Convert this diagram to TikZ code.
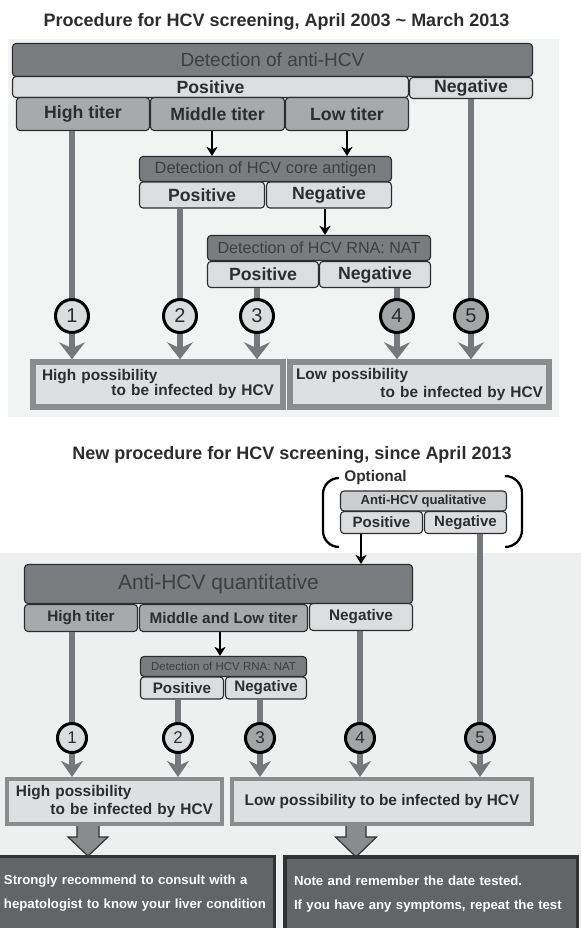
\documentclass[tikz,border=0pt]{standalone}
\usepackage{fontspec}
\setmainfont{Liberation Sans}
\usetikzlibrary{arrows.meta}
\usetikzlibrary{positioning,calc}

\definecolor{panelgray}{RGB}{242,243,243}
\definecolor{panelgraylow}{RGB}{238,240,239}
\definecolor{darkfill}{RGB}{123,124,127}
\definecolor{darktext}{RGB}{62,63,65}
\definecolor{midfill}{RGB}{168,169,171}
\definecolor{lightfill}{RGB}{220,221,223}
\definecolor{qualfill}{RGB}{205,206,208}
\definecolor{shadefill}{RGB}{164,165,167}
\definecolor{linkgray}{RGB}{119,120,123}
\definecolor{framegray}{RGB}{139,140,142}
\definecolor{resfill}{RGB}{222,223,224}
\definecolor{notefill}{RGB}{99,100,104}
\definecolor{noteframe}{RGB}{50,50,52}
\definecolor{arrowfill}{RGB}{138,139,141}
\definecolor{inkgray}{RGB}{45,45,47}

\tikzstyle{headline}=[font=\bfseries\fontsize{18}{20}\selectfont,text=inkgray,inner sep=0pt]
\tikzstyle{box}=[rectangle,rounded corners=3.5pt,draw=inkgray,line width=1.1pt,inner sep=0pt,text=inkgray]
\tikzstyle{testbox}=[box,fill=darkfill,text=darktext]
\tikzstyle{answerbox}=[box,fill=lightfill,font=\bfseries\fontsize{17.7}{20}\selectfont]
\tikzstyle{titerbox}=[box,fill=midfill,font=\bfseries\fontsize{17.7}{20}\selectfont]
\tikzstyle{numcircle}=[circle,draw=black,line width=3pt,inner sep=0pt,text=inkgray]
\tikzstyle{endbox}=[rectangle,draw=framegray,fill=resfill,inner sep=0pt,text=inkgray,align=left]
\tikzstyle{notebox}=[rectangle,draw=noteframe,fill=notefill,line width=3.5pt,inner sep=0pt,text=white,font=\bfseries\fontsize{13.2}{24}\selectfont,align=left]
\tikzstyle{link}=[draw=linkgray,line width=6pt]
\tikzstyle{linkarrow}=[link,-{Stealth[length=17pt,width=26pt,inset=6pt]}]
\tikzstyle{smalllinkarrow}=[link,-{Stealth[length=16pt,width=22pt,inset=5pt]}]
\tikzstyle{flow}=[draw=black,line width=2.5pt,-{Stealth[length=9pt,width=11pt,inset=2.5pt]}]
\tikzstyle{blockarrow}=[draw=noteframe,fill=arrowfill,line width=1.2pt,line join=miter]
\tikzstyle{bracket}=[draw=black,line width=2.3pt]

\begin{document}
\begin{tikzpicture}[x=1pt,y=-1pt]
\useasboundingbox (0,0) rectangle (581,928);

   \def\ctop{316};
   \def\cbot{738};

% Panels
   \fill[panelgray] (8,39) rectangle (559,417);
   \fill[panelgraylow] (0,553) rectangle (581,928);

% Titles
   \node[headline,anchor=base] (head1) at (276.5,27) {Procedure for HCV screening, April 2003 \textasciitilde{} March 2013};
   \node[headline,anchor=base] (head2) at (292,459) {New procedure for HCV screening, since April 2013};

%%%% Old procedure

%layer 1
   \node[testbox,minimum width=520,minimum height=33,font=\fontsize{19}{20}\selectfont] (anti) at (272.5,60) {Detection of anti-HCV};
    \foreach \pos/\name/\wid/\label in {{(210.5,87)/pos1/396/Positive},{(471,88)/neg1/123/Negative}}
        \node[answerbox,minimum width=\wid,minimum height=21] (\name) at \pos {\label};
    \foreach \pos/\name/\wid/\label in {{(83,114)/high1/133/High titer},{(217.5,114)/mid1/134/Middle titer},{(347,114)/low1/123/Low titer}}
        \node[titerbox,minimum width=\wid,minimum height=33] (\name) at \pos {\label};

%layer 2
   \node[testbox,minimum width=252,minimum height=25,font=\fontsize{16.4}{18}\selectfont] (core) at (265.5,169) {Detection of HCV core antigen};
    \foreach \pos/\name/\label in {{(202,195)/cpos/Positive},{(329,195)/cneg/Negative}}
        \node[answerbox,minimum width=125,minimum height=26] (\name) at \pos {\label};

%layer 3
   \node[testbox,minimum width=223,minimum height=25,font=\fontsize{16.1}{18}\selectfont] (rna) at (319,248) {Detection of HCV RNA: NAT};
    \foreach \pos/\name/\label in {{(263,274.5)/rpos/Positive},{(375,274.5)/rneg/Negative}}
        \node[answerbox,minimum width=111,minimum height=26] (\name) at \pos {\label};

%circles
    \foreach \pos/\name/\shade/\label in {{(72,\ctop)/c1/lightfill/1},{(180,\ctop)/c2/lightfill/2},{(257,\ctop)/c3/lightfill/3},{(397,\ctop)/c4/shadefill/4},{(471,\ctop)/c5/shadefill/5}}
        \node[numcircle,fill=\shade,minimum size=33,font=\fontsize{20}{20}\selectfont] (\name) at \pos {\label};

%results
   \node[endbox,line width=5.5pt,minimum width=250,minimum height=45,text width=232,font=\bfseries\fontsize{15.4}{15}\selectfont] (hp1) at (158,384.5) {High possibility\\\hspace*{\fill}to be infected by HCV};
   \node[endbox,line width=5.5pt,minimum width=259,minimum height=45,text width=247,font=\bfseries\fontsize{15.4}{18}\selectfont] (lp1) at (419.5,384.5) {Low possibility\\\hspace*{\fill}to be infected by HCV};

% Edges
    \draw[flow] ([xshift=-5.5pt]mid1.south) -- ([xshift=-5.5pt]mid1.south |- core.north);
    \draw[flow] (low1.south) -- (low1.south |- core.north);
    \draw[flow] ([xshift=-4pt]cneg.south) -- ([xshift=-4pt]cneg.south |- rna.north);

    \foreach \source/\dest in {high1/c1, cpos/c2, rpos/c3, rneg/c4, neg1/c5}
        \path[link] (\dest |- \source.south) -- (\dest.north);
    \foreach \dest/\target in {c1/hp1, c2/hp1, c3/hp1, c4/lp1, c5/lp1}
        \path[linkarrow] (\dest.south) -- (\dest |- \target.north);

%%%% New procedure

%optional
   \node[font=\bfseries\fontsize{15.4}{16}\selectfont,text=inkgray,inner sep=0pt] (opt) at (375.5,478) {Optional};
   \node[box,fill=qualfill,minimum width=166,minimum height=20,font=\bfseries\fontsize{13.1}{14}\selectfont] (qual) at (423.5,501) {Anti-HCV qualitative};
    \foreach \pos/\name/\label in {{(381.5,522.5)/qpos/Positive},{(465.5,522.5)/qneg/Negative}}
        \node[answerbox,minimum width=82,minimum height=22,font=\bfseries\fontsize{15}{16}\selectfont] (\name) at \pos {\label};
   \draw[bracket] (339,478) to[out=180,in=90] (323,494) -- (323,531) to[out=270,in=180] (339,547);
   \draw[bracket] (505,476) to[out=0,in=90] (522,493) -- (522,530) to[out=270,in=0] (505,547);

%layer 1
   \node[testbox,minimum width=388,minimum height=39,font=\fontsize{21}{22}\selectfont] (quant) at (218.5,584) {Anti-HCV quantitative};
    \foreach \pos/\name/\wid/\shade/\label in {{(81,618)/high2/113/midfill/High titer},{(223.5,618)/midlow/168/midfill/Middle and Low titer},{(361,617)/neg2/103/lightfill/Negative}}
        \node[box,fill=\shade,minimum width=\wid,minimum height=27,font=\bfseries\fontsize{15.3}{16}\selectfont] (\name) at \pos {\label};

%layer 2
   \node[testbox,minimum width=166,minimum height=20,font=\fontsize{11.5}{12}\selectfont] (rna2) at (223.5,666.5) {Detection of HCV RNA: NAT};
    \foreach \pos/\name/\wid/\label in {{(182,688)/rpos2/83/Positive},{(266,688)/rneg2/81/Negative}}
        \node[answerbox,minimum width=\wid,minimum height=22,font=\bfseries\fontsize{15.2}{16}\selectfont] (\name) at \pos {\label};

%circles
    \foreach \pos/\name/\shade/\label in {{(72,\cbot)/d1/lightfill/1},{(178,\cbot)/d2/lightfill/2},{(260,\cbot)/d3/shadefill/3},{(360,\cbot)/d4/shadefill/4},{(480,\cbot)/d5/shadefill/5}}
        \node[numcircle,fill=\shade,minimum size=29,font=\fontsize{17}{17}\selectfont] (\name) at \pos {\label};

%block arrows
   \coordinate (ba1) at (88,824);
   \coordinate (ba2) at (356,824);
   \draw[blockarrow] (ba1) ++(-11,0) -- ++(0,13) -- ++(-9,0) -- ++(20,19) -- ++(20,-19) -- ++(-9,0) -- ++(0,-13);
   \draw[blockarrow] (ba2) ++(-10,0) -- ++(0,13) -- ++(-10.5,0) -- ++(20.5,20) -- ++(20.5,-20) -- ++(-10.5,0) -- ++(0,-13);

%results
   \node[endbox,line width=4pt,minimum width=215,minimum height=45,text width=197,font=\bfseries\fontsize{15.4}{18}\selectfont] (hp2) at (114.5,801.5) {High possibility\\\hspace*{\fill}to be infected by HCV};
   \node[endbox,line width=4pt,minimum width=300,minimum height=45,font=\bfseries\fontsize{15.4}{18}\selectfont] (lp2) at (382,801.5) {Low possibility to be infected by HCV};

%advice
   \node[notebox,minimum width=279,minimum height=74,text width=262] (adv1) at (135,893.5) {Strongly recommend to consult with a\\hepatologist to know your liver condition};
   \node[notebox,minimum width=292.5,minimum height=74,text width=274] (adv2) at (431,894) {Note and remember the date tested.\\If you have any symptoms, repeat the test};

% Edges
    \draw[flow] ([xshift=-20.5pt]qpos.south) -- ([xshift=-20.5pt]qpos.south |- quant.north);
    \draw[flow] ([xshift=-3.5pt]midlow.south) -- ([xshift=-3.5pt]midlow.south |- rna2.north);

    \foreach \source/\dest in {high2/d1, rpos2/d2, rneg2/d3, neg2/d4, qneg/d5}
        \path[link] (\dest |- \source.south) -- (\dest.north);
    \foreach \dest/\target in {d1/hp2, d2/hp2, d3/lp2, d4/lp2, d5/lp2}
        \path[smalllinkarrow] (\dest.south) -- (\dest |- \target.north);

\end{tikzpicture}
\end{document}
